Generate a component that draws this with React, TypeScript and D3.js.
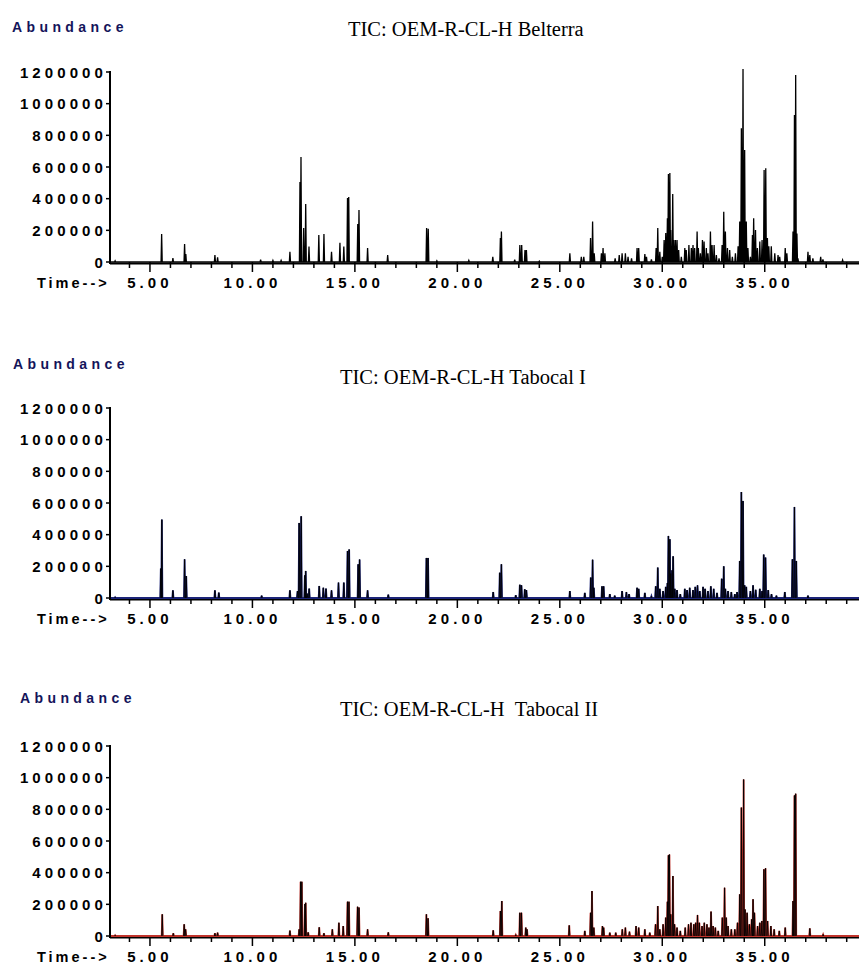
import * as d3 from 'd3';

// peak apexes: [retention time (min), abundance]
const belterraPeaks: [number, number][] = [
  [3.3, 8000], [5.57, 177000], [6.12, 25000], [6.69, 114000], [6.75, 50000], [8.17, 44000], [8.3, 30000],
  [10.4, 15000], [11.0, 10000], [11.4, 10000], [11.83, 65000], [12.32, 505000], [12.37, 663000], [12.5, 215000],
  [12.6, 366000], [12.76, 97000], [13.24, 170000], [13.49, 177000], [13.86, 65000], [14.27, 122000], [14.46, 97000],
  [14.64, 404000], [14.7, 410000], [15.14, 240000], [15.2, 328000], [15.62, 88000], [16.6, 44000], [18.5, 215000],
  [18.58, 210000], [19.0, 8000], [20.56, 10000], [21.73, 33000], [22.1, 152000], [22.15, 192000], [22.8, 15000],
  [23.05, 107000], [23.14, 107000], [23.3, 76000], [23.37, 76000], [24.0, 5000], [25.49, 55000], [26.05, 33000],
  [26.17, 33000], [26.5, 152000], [26.6, 255000], [26.68, 55000], [27.03, 55000], [27.11, 88000], [27.2, 55000],
  [27.7, 23000], [27.9, 44000], [28.04, 55000], [28.2, 55000], [28.33, 33000], [28.5, 23000], [28.77, 88000],
  [28.85, 88000], [29.15, 50000], [29.23, 33000], [29.47, 17000], [29.7, 88000], [29.78, 215000], [29.88, 65000],
  [30.0, 33000], [30.09, 139000], [30.17, 183000], [30.25, 277000], [30.3, 556000], [30.37, 562000], [30.41, 202000],
  [30.51, 430000], [30.56, 139000], [30.64, 139000], [30.72, 139000], [30.8, 76000], [30.93, 33000], [31.1, 88000],
  [31.17, 76000], [31.3, 107000], [31.42, 88000], [31.5, 107000], [31.58, 88000], [31.7, 192000], [31.76, 88000],
  [31.86, 55000], [31.96, 139000], [32.04, 130000], [32.15, 88000], [32.23, 55000], [32.35, 192000], [32.43, 107000],
  [32.53, 107000], [32.64, 44000], [32.77, 23000], [32.92, 107000], [33.0, 318000], [33.08, 192000], [33.18, 88000],
  [33.29, 76000], [33.42, 33000], [33.57, 55000], [33.7, 100000], [33.78, 255000], [33.86, 845000], [33.94, 1219000],
  [34.02, 707000], [34.1, 255000], [34.18, 88000], [34.3, 33000], [34.4, 170000], [34.46, 277000], [34.55, 202000],
  [34.64, 88000], [34.76, 130000], [34.87, 139000], [34.97, 581000], [35.05, 592000], [35.13, 152000], [35.2, 100000],
  [35.32, 100000], [35.49, 55000], [35.65, 44000], [35.73, 33000], [36.0, 88000], [36.08, 55000], [36.38, 192000],
  [36.45, 928000], [36.51, 1181000], [36.57, 180000], [36.62, 23000], [37.11, 65000], [37.2, 44000], [37.35, 23000],
  [37.73, 33000], [37.84, 17000], [38.8, 12000],
];

const tabocal1Peaks: [number, number][] = [
  [3.3, 5000], [5.53, 186000], [5.58, 495000], [6.12, 48000], [6.69, 244000], [6.77, 139000], [8.17, 48000],
  [8.36, 34000], [10.45, 15000], [11.83, 48000], [12.2, 44000], [12.28, 474000], [12.38, 516000], [12.56, 143000],
  [12.6, 171000], [12.67, 28000], [12.77, 59000], [13.26, 76000], [13.46, 65000], [13.59, 59000], [13.86, 48000],
  [14.2, 97000], [14.46, 97000], [14.64, 297000], [14.72, 307000], [15.16, 213000], [15.23, 243000], [15.62, 48000],
  [16.63, 21000], [18.49, 253000], [18.57, 253000], [21.75, 38000], [22.07, 160000], [22.15, 213000], [22.85, 17000],
  [23.05, 84000], [23.13, 80000], [23.29, 55000], [23.37, 50000], [25.49, 44000], [26.22, 32000], [26.51, 129000],
  [26.6, 242000], [26.66, 65000], [27.06, 74000], [27.14, 74000], [27.44, 25000], [27.68, 15000], [28.04, 44000],
  [28.25, 38000], [28.38, 25000], [28.77, 65000], [28.85, 58000], [29.15, 32000], [29.47, 12000], [29.68, 74000],
  [29.78, 192000], [29.88, 58000], [30.04, 44000], [30.17, 70000], [30.25, 95000], [30.3, 392000], [30.37, 371000],
  [30.41, 154000], [30.48, 175000], [30.53, 263000], [30.61, 58000], [30.72, 50000], [30.88, 25000], [31.1, 58000],
  [31.21, 50000], [31.34, 65000], [31.5, 50000], [31.61, 70000], [31.72, 80000], [31.83, 44000], [31.99, 70000],
  [32.09, 58000], [32.23, 44000], [32.37, 74000], [32.51, 58000], [32.67, 32000], [32.9, 122000], [33.0, 200000],
  [33.08, 58000], [33.21, 44000], [33.37, 38000], [33.54, 25000], [33.65, 38000], [33.78, 234000], [33.86, 669000],
  [33.94, 613000], [34.02, 80000], [34.1, 70000], [34.3, 44000], [34.43, 80000], [34.56, 52000], [34.76, 58000],
  [34.87, 44000], [34.95, 274000], [35.04, 255000], [35.17, 50000], [35.33, 25000], [35.57, 15000], [35.98, 38000],
  [36.35, 244000], [36.45, 575000], [36.54, 234000], [37.11, 15000],
];

const tabocal2Peaks: [number, number][] = [
  [3.3, 5000], [5.6, 137000], [6.14, 17000], [6.67, 74000], [6.74, 42000], [8.17, 17000], [8.3, 21000],
  [11.83, 34000], [12.28, 42000], [12.35, 343000], [12.41, 343000], [12.56, 202000], [12.6, 210000], [12.72, 23000],
  [13.26, 55000], [13.49, 17000], [13.9, 42000], [14.22, 84000], [14.43, 63000], [14.64, 217000], [14.71, 217000],
  [15.13, 185000], [15.2, 180000], [15.62, 42000], [16.63, 23000], [18.49, 137000], [18.57, 112000], [21.75, 36000],
  [22.1, 158000], [22.17, 221000], [22.85, 8000], [23.05, 147000], [23.13, 147000], [23.34, 53000], [23.4, 42000],
  [25.46, 67000], [26.22, 32000], [26.5, 147000], [26.57, 284000], [26.66, 53000], [27.08, 63000], [27.14, 53000],
  [27.44, 21000], [27.73, 21000], [28.05, 42000], [28.2, 53000], [28.4, 27000], [28.72, 63000], [28.85, 53000],
  [29.15, 42000], [29.39, 21000], [29.67, 74000], [29.78, 189000], [29.88, 42000], [30.04, 74000], [30.17, 116000],
  [30.25, 217000], [30.3, 510000], [30.35, 515000], [30.41, 137000], [30.52, 379000], [30.6, 74000], [30.72, 53000],
  [30.88, 32000], [31.12, 53000], [31.28, 74000], [31.4, 84000], [31.54, 74000], [31.63, 84000], [31.72, 133000],
  [31.81, 84000], [31.94, 63000], [32.05, 84000], [32.18, 74000], [32.28, 53000], [32.38, 154000], [32.48, 63000],
  [32.59, 53000], [32.73, 32000], [32.93, 116000], [33.04, 305000], [33.12, 116000], [33.21, 63000], [33.37, 42000],
  [33.54, 42000], [33.67, 84000], [33.78, 263000], [33.86, 811000], [33.97, 989000], [34.04, 168000], [34.14, 147000],
  [34.25, 74000], [34.36, 105000], [34.43, 232000], [34.5, 147000], [34.65, 63000], [34.76, 84000], [34.86, 95000],
  [34.96, 421000], [35.04, 428000], [35.14, 95000], [35.3, 63000], [35.46, 42000], [35.71, 32000], [36.0, 53000],
  [36.38, 221000], [36.45, 888000], [36.51, 899000], [37.2, 48000], [37.85, 10000],
];

const titles = ['TIC: OEM-R-CL-H Belterra', 'TIC: OEM-R-CL-H Tabocal I', 'TIC: OEM-R-CL-H\u00a0\u00a0Tabocal II'];
const yTicks = [0, 200000, 400000, 600000, 800000, 1000000, 1200000];
const xLabels = [5, 10, 15, 20, 25, 30, 35];
const xMinor = d3.range(4, 40);

const W = 859;
const H = 965;
const tickFont = '"Liberation Sans", Arial, sans-serif';

const panels = [
  { peaks: belterraPeaks, color: '#000000', base: 262, abundX: 12, abundY: 32, titleX: 348, titleY: 36 },
  { peaks: tabocal1Peaks, color: '#1c2478', base: 598, abundX: 13, abundY: 369, titleX: 340, titleY: 384 },
  { peaks: tabocal2Peaks, color: '#c0332b', base: 936, abundX: 20, abundY: 703, titleX: 340, titleY: 716 },
];

const x = d3.scaleLinear().domain([3.05, 39.6]).range([110, W]);
const halfWidth = 0.028; // half width of a spike, minutes

const Panel = ({ p, title }: { p: typeof panels[number]; title: string }) => {
  const y = d3.scaleLinear().domain([0, 1200000]).range([p.base, p.base - 190]);
  const line = d3.line<[number, number]>().x(d => x(d[0])).y(d => y(d[1]));
  const sorted = [...p.peaks].sort((a, b) => a[0] - b[0]);
  const pts: [number, number][] = [[3.1, 0]];
  sorted.forEach(([t, h]) => pts.push([t - halfWidth, 0], [t, h], [t + halfWidth, 0]));
  pts.push([39.6, 0]);
  const spikes = sorted
    .map(([t, h]) => line([[t - halfWidth, 0], [t, h], [t + halfWidth, 0]]))
    .join('');
  const isBlack = p.color === '#000000';
  return (
    <g>
      <text x={p.abundX} y={p.abundY} fontFamily={tickFont} fontWeight="bold" fontSize={14} letterSpacing={4.4}
        fill="#14145a">
        Abundance
      </text>
      <text x={p.titleX} y={p.titleY} fontFamily='"Liberation Serif", "Times New Roman", serif' fontSize={20.5}
        fill="#000">
        {title}
      </text>
      {/* y axis */}
      <line x1={110} x2={110} y1={y(1200000) - 1} y2={p.base + 2} stroke="#000" strokeWidth={2} />
      {yTicks.map(v => (
        <g key={v}>
          <line x1={106} x2={110} y1={y(v)} y2={y(v)} stroke="#000" strokeWidth={1.5} />
          <text x={107} y={y(v) + 5.5} textAnchor="end" fontFamily={tickFont} fontWeight="bold" fontSize={15}
            letterSpacing={4.1} fill="#000">{v}</text>
        </g>
      ))}
      {/* x axis */}
      <line x1={110} x2={W} y1={p.base + 1.5} y2={p.base + 1.5} stroke="#000" strokeWidth={2} />
      {xMinor.map(t => (
        <line key={t} x1={x(t)} x2={x(t)} y1={p.base} y2={p.base + (t % 5 === 0 ? 10 : 6)} stroke="#000"
          strokeWidth={1.5} />
      ))}
      {xLabels.map(t => (
        <text key={t} x={x(t)} y={p.base + 25.5} textAnchor="middle" fontFamily={tickFont} fontWeight="bold"
          fontSize={15} letterSpacing={4.1} fill="#000">{t.toFixed(2)}</text>
      ))}
      <text x={37} y={p.base + 26} fontFamily={tickFont} fontWeight="bold" fontSize={14.5} letterSpacing={3}
        fill="#000">
        Time--&gt;
      </text>
      {/* trace */}
      <path d={line(pts) || ''} fill="none" stroke={p.color} strokeWidth={isBlack ? 1.3 : 1.8} />
      {!isBlack && <path d={spikes} fill="none" stroke="#000" strokeWidth={0.9} />}
    </g>
  );
};

export default function App() {
  return (
    <svg width={W} height={H} style={{ position: 'absolute', left: 0, top: 0, background: '#fff' }}>
      <rect width={W} height={H} fill="#fff" />
      {panels.map((p, i) => (
        <Panel key={i} p={p} title={titles[i]} />
      ))}
    </svg>
  );
}
